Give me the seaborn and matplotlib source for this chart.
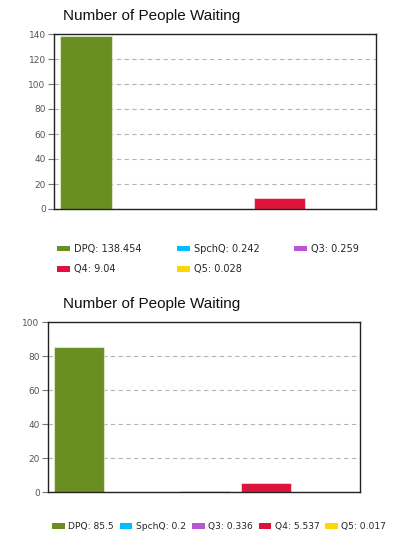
import matplotlib
matplotlib.use("Agg")
import matplotlib.pyplot as plt
import seaborn as sns
from matplotlib.patches import Patch

# Datos de las dos corridas
colas = ["DPQ", "SpchQ", "Q3", "Q4", "Q5"]
espera_1 = [138.454, 0.242, 0.259, 9.04, 0.028]
espera_2 = [85.5, 0.2, 0.336, 5.537, 0.017]
colores = ["#6B8E23", "#00BFFF", "#BA55D3", "#DC143C", "#FFD700"]
titulo = "Number of People Waiting"

sns.set_style("white")
plt.rcParams["font.family"] = ["DejaVu Sans"]

fig = plt.figure(figsize=(3.93, 5.35), dpi=100)
paleta = dict(zip(colas, colores))


def dibujar(ax, valores, ymax):
    sns.barplot(x=colas, y=valores, hue=colas, palette=paleta, legend=False,
                width=0.8, saturation=1, edgecolor=(1, 1, 1, 0.5), linewidth=0.8, ax=ax)
    ax.set_xlim(-0.5, 4.5)
    ax.set_ylim(0, ymax)
    ax.set_yticks(range(0, ymax + 1, 20))
    ax.set_xticks([])
    ax.grid(axis="y", color="#b5b5b5", linestyle=(0, (4, 3)), linewidth=0.8)
    ax.set_axisbelow(True)
    for s in ax.spines.values():
        s.set_visible(True)
        s.set_color("#222222")
        s.set_linewidth(1.0)
    ax.tick_params(axis="y", left=True, length=4, width=0.8, color="#777777",
                   labelsize=6.5, labelcolor="#555555", pad=2)


def titular(y):
    fig.text(63 / 393, 1 - y / 535, titulo, fontsize=11, family=["Liberation Sans"],
             ha="left", va="center", color="#111111")


def handles(valores, orden):
    return [Patch(facecolor=colores[i], edgecolor="none",
                  label=f"{colas[i]}: {valores[i]:g}") for i in orden]


# Gráfico 1
ax1 = fig.add_axes([54 / 393, 1 - 209 / 535, 322 / 393, 175 / 535])
dibujar(ax1, espera_1, 140)
titular(16)
fig.legend(handles=handles(espera_1, [0, 3, 1, 4, 2]), ncol=3, loc="upper left",
           bbox_to_anchor=(57 / 393, 1 - 244 / 535), frameon=False, fontsize=7,
           handlelength=1.35, handleheight=0.55, handletextpad=0.4,
           columnspacing=3.6, labelspacing=1.05, borderpad=0, borderaxespad=0)

# Gráfico 2
ax2 = fig.add_axes([48 / 393, 1 - 492 / 535, 312 / 393, 170 / 535])
dibujar(ax2, espera_2, 100)
titular(304)
fig.legend(handles=handles(espera_2, range(5)), ncol=5, loc="upper left",
           bbox_to_anchor=(52 / 393, 1 - 522 / 535), frameon=False, fontsize=6.6,
           handlelength=1.4, handleheight=0.6, handletextpad=0.35,
           columnspacing=0.65, borderpad=0, borderaxespad=0)

fig.savefig("out.png", dpi=100)
